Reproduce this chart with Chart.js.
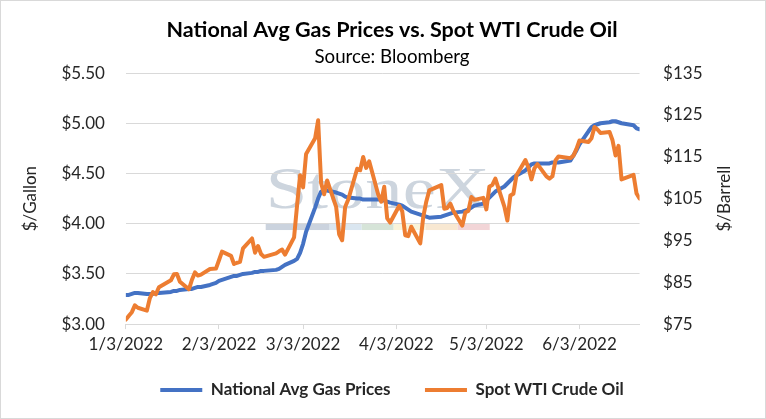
<!DOCTYPE html>
<html>
<head>
<meta charset="utf-8">
<script src="https://cdn.jsdelivr.net/npm/chart.js@4/dist/chart.umd.min.js"></script>
<style>
  html, body { margin: 0; padding: 0; background: #fff; }
</style>
</head>
<body>
<canvas id="gas-chart" width="766" height="419"></canvas>
<script>
// trading days shown on the chart
const dates = [
  "2022-01-03","2022-01-04","2022-01-05","2022-01-06","2022-01-07","2022-01-10","2022-01-11","2022-01-12","2022-01-13","2022-01-14",
  "2022-01-18","2022-01-19","2022-01-20","2022-01-21","2022-01-24","2022-01-25","2022-01-26","2022-01-27","2022-01-28","2022-01-31",
  "2022-02-01","2022-02-02","2022-02-03","2022-02-04","2022-02-07","2022-02-08","2022-02-09","2022-02-10","2022-02-11","2022-02-14",
  "2022-02-15","2022-02-16","2022-02-17","2022-02-18","2022-02-22","2022-02-23","2022-02-24","2022-02-25","2022-02-28",
  "2022-03-01","2022-03-02","2022-03-03","2022-03-04","2022-03-07","2022-03-08","2022-03-09","2022-03-10","2022-03-11","2022-03-14",
  "2022-03-15","2022-03-16","2022-03-17","2022-03-18","2022-03-21","2022-03-22","2022-03-23","2022-03-24","2022-03-25","2022-03-28",
  "2022-03-29","2022-03-30","2022-03-31",
  "2022-04-01","2022-04-04","2022-04-05","2022-04-06","2022-04-07","2022-04-08","2022-04-11","2022-04-12","2022-04-13","2022-04-14",
  "2022-04-18","2022-04-19","2022-04-20","2022-04-21","2022-04-22","2022-04-25","2022-04-26","2022-04-27","2022-04-28","2022-04-29",
  "2022-05-02","2022-05-03","2022-05-04","2022-05-05","2022-05-06","2022-05-09","2022-05-10","2022-05-11","2022-05-12","2022-05-13",
  "2022-05-16","2022-05-17","2022-05-18","2022-05-19","2022-05-20","2022-05-23","2022-05-24","2022-05-25","2022-05-26","2022-05-27",
  "2022-05-31",
  "2022-06-01","2022-06-02","2022-06-03","2022-06-06","2022-06-07","2022-06-08","2022-06-09","2022-06-10","2022-06-13","2022-06-14",
  "2022-06-15","2022-06-16","2022-06-17","2022-06-21","2022-06-22","2022-06-23"
];

// $/gallon
const gasPrices = [
  3.29, 3.29, 3.30, 3.31, 3.31, 3.30, 3.30, 3.30, 3.31, 3.31,
  3.32, 3.33, 3.33, 3.34, 3.35, 3.35, 3.36, 3.37, 3.37, 3.39,
  3.40, 3.41, 3.43, 3.44, 3.47, 3.48, 3.48, 3.49, 3.50, 3.51,
  3.52, 3.52, 3.53, 3.53, 3.54, 3.55, 3.57, 3.59, 3.63,
  3.65, 3.71, 3.80, 3.92, 4.16, 4.25, 4.32, 4.33, 4.33, 4.31,
  4.30, 4.29, 4.27, 4.26, 4.25, 4.25, 4.24, 4.24, 4.24, 4.24,
  4.24, 4.23, 4.22,
  4.21, 4.19, 4.18, 4.16, 4.14, 4.12, 4.09, 4.08, 4.07, 4.06,
  4.07, 4.08, 4.09, 4.10, 4.11, 4.12, 4.13, 4.14, 4.16, 4.18,
  4.20, 4.23, 4.26, 4.29, 4.32, 4.37, 4.40, 4.43, 4.46, 4.48,
  4.53, 4.56, 4.59, 4.60, 4.60, 4.60, 4.60, 4.61, 4.61, 4.61,
  4.63,
  4.68, 4.73, 4.79, 4.92, 4.96, 4.98, 4.99, 5.00, 5.01, 5.02,
  5.02, 5.01, 5.00, 4.98, 4.95, 4.94
];

// $/barrel
const wtiPrices = [
  76.08, 76.99, 77.85, 79.46, 78.90, 78.23, 81.22, 82.64, 82.12, 83.82,
  85.48, 86.90, 86.96, 85.14, 83.31, 85.60, 87.35, 86.61, 86.82, 88.15,
  88.20, 88.26, 90.27, 92.31, 91.32, 89.36, 89.66, 89.88, 93.10, 95.46,
  92.07, 93.66, 91.76, 91.07, 91.90, 92.40, 92.80, 91.60, 95.72,
  103.41, 110.60, 107.67, 115.68, 119.40, 123.70, 108.70, 106.02, 109.33, 103.01,
  96.44, 95.04, 102.98, 104.70, 112.12, 111.76, 114.93, 112.34, 113.90, 105.96,
  104.24, 107.82, 100.28,
  99.27, 103.28, 101.96, 96.23, 96.03, 98.26, 94.29, 100.60, 104.25, 106.95,
  108.21, 102.56, 102.75, 103.79, 102.07, 98.54, 101.70, 102.02, 105.36, 104.69,
  105.17, 102.41, 107.81, 108.26, 109.77, 103.09, 99.76, 105.71, 106.13, 110.49,
  114.20, 112.40, 109.59, 112.21, 113.23, 110.29, 109.77, 110.33, 114.09, 115.07,
  114.67,
  115.26, 116.87, 118.87, 118.50, 119.41, 122.11, 121.51, 120.67, 120.93, 118.93,
  115.31, 117.59, 109.56, 110.65, 106.19, 105.00
];

const xTickDates = ["2022-01-03", "2022-02-03", "2022-03-03", "2022-04-03", "2022-05-03", "2022-06-03"];
const xTickLabels = ["1/3/2022", "2/3/2022", "3/3/2022", "4/3/2022", "5/3/2022", "6/3/2022"];

const FONT = "Lato, 'Open Sans', sans-serif";
const TEXT = "#262626";
const GRID = "#d9d9d9";

// days since the first date, so the x axis is a real date scale
function dayOf(iso) {
  const [y, m, d] = iso.split("-").map(Number);
  const [y0, m0, d0] = dates[0].split("-").map(Number);
  return (Date.UTC(y, m - 1, d) - Date.UTC(y0, m0 - 1, d0)) / 86400000;
}

const gasPoints = dates.map((d, i) => ({ x: dayOf(d), y: gasPrices[i] }));
const wtiPoints = dates.map((d, i) => ({ x: dayOf(d), y: wtiPrices[i] }));

// faint logo behind the plot
const watermark = {
  id: "watermark",
  beforeDraw(chart) {
    const { ctx, chartArea } = chart;
    const cx = (chartArea.left + chartArea.right) / 2 - 5;
    const w = 224;
    const x0 = cx - w / 2;
    const base = chartArea.top + 135;
    ctx.save();
    ctx.font = "60px 'Liberation Serif', 'DejaVu Serif', serif";
    ctx.fillStyle = "#cdd5de";
    ctx.textBaseline = "alphabetic";
    const tw = ctx.measureText("StoneX").width;
    ctx.translate(x0, base);
    ctx.scale(w / tw, 1);
    ctx.fillText("StoneX", 0, 0);
    ctx.restore();

    const barColors = ["#cbd3de", "#dae6f0", "#d6e4d8", "#f9f3d9", "#f8e8d2", "#f2d5d7"];
    const barWidths = [64, 32, 32, 32, 32, 32];
    let bx = x0;
    ctx.save();
    barColors.forEach((c, i) => {
      ctx.fillStyle = c;
      ctx.fillRect(bx, base + 15, barWidths[i], 7);
      bx += barWidths[i];
    });
    ctx.restore();
  },
};

// frame, and the right axis title read bottom-to-top like the left one
const extras = {
  id: "extras",
  afterDraw(chart) {
    const { ctx, chartArea } = chart;
    ctx.save();
    ctx.strokeStyle = GRID;
    ctx.lineWidth = 1;
    ctx.strokeRect(0.5, 0.5, chart.width - 1, chart.height - 1);
    ctx.translate(chart.width - 41, (chartArea.top + chartArea.bottom) / 2);
    ctx.rotate(-Math.PI / 2);
    ctx.font = "17px " + FONT;
    ctx.fillStyle = TEXT;
    ctx.textAlign = "center";
    ctx.textBaseline = "middle";
    ctx.fillText("$/Barrell", 0, 0);
    ctx.restore();
  },
};

const chart = new Chart(document.getElementById("gas-chart"), {
  type: "line",
  data: {
    datasets: [
      {
        label: "National Avg Gas Prices",
        data: gasPoints,
        yAxisID: "y",
        borderColor: "#4472C4",
        backgroundColor: "#4472C4",
        borderWidth: 4,
        borderCapStyle: "round",
        borderJoinStyle: "round",
        pointRadius: 0,
        tension: 0,
        order: 1,
      },
      {
        label: "Spot WTI Crude Oil",
        data: wtiPoints,
        yAxisID: "y2",
        borderColor: "#ED7D31",
        backgroundColor: "#ED7D31",
        borderWidth: 4,
        borderCapStyle: "round",
        borderJoinStyle: "round",
        pointRadius: 0,
        tension: 0,
        order: 0, // orange sits on top of blue
      },
    ],
  },
  options: {
    responsive: false,
    animation: false,
    layout: { padding: { left: 18, right: 0, top: 0, bottom: 10.5 } },
    plugins: {
      title: {
        display: true,
        text: "National Avg Gas Prices vs. Spot WTI Crude Oil",
        color: "#000",
        font: { family: FONT, size: 21.5, weight: "bold" },
        padding: { top: 17, bottom: 3 },
      },
      subtitle: {
        display: true,
        text: "Source: Bloomberg",
        color: "#000",
        font: { family: FONT, size: 18.7 },
        padding: { top: 0, bottom: 4.8 },
      },
      legend: {
        position: "bottom",
        labels: {
          color: TEXT,
          font: { family: FONT, size: 17, weight: "bold" },
          usePointStyle: true,
          pointStyle: "line",
          pointStyleWidth: 42,
          padding: 22,
          sort: (a, b) => a.datasetIndex - b.datasetIndex,
          // a little extra room after the first entry
          generateLabels: (chart) => {
            const items = Chart.defaults.plugins.legend.labels.generateLabels(chart);
            items.forEach((it) => {
              if (it.datasetIndex === 0) it.text += "   ";
            });
            return items;
          },
        },
      },
      tooltip: { enabled: false },
    },
    scales: {
      x: {
        type: "linear",
        min: 0,
        max: dayOf(dates[dates.length - 1]),
        afterBuildTicks: (axis) => {
          axis.ticks = xTickDates.map((d) => ({ value: dayOf(d) }));
        },
        ticks: {
          autoSkip: false,
          maxRotation: 0,
          color: TEXT,
          font: { family: FONT, size: 17 },
          padding: 5,
          callback: (value, index) => xTickLabels[index],
        },
        grid: { drawOnChartArea: false, drawTicks: true, tickLength: 5, color: GRID },
        border: { color: GRID },
      },
      y: {
        position: "left",
        min: 3,
        max: 5.5,
        ticks: {
          stepSize: 0.5,
          color: TEXT,
          font: { family: FONT, size: 17 },
          padding: 21,
          callback: (v) => "$" + v.toFixed(2),
        },
        grid: { color: GRID, drawTicks: false },
        border: { display: false },
        title: {
          display: true,
          text: "$/Gallon",
          color: TEXT,
          font: { family: FONT, size: 17 },
          padding: { top: 2, bottom: 0 },
        },
      },
      y2: {
        position: "right",
        min: 75,
        max: 135,
        ticks: {
          stepSize: 10,
          color: TEXT,
          font: { family: FONT, size: 17 },
          padding: 23.5,
          callback: (v) => "$" + v,
        },
        grid: { display: false, drawTicks: false },
        border: { display: false },
        // room for the hand-drawn "$/Barrell" title
        afterFit: (axis) => {
          axis.width += 40;
        },
      },
    },
  },
  plugins: [watermark, extras],
});
</script>
</body>
</html>
